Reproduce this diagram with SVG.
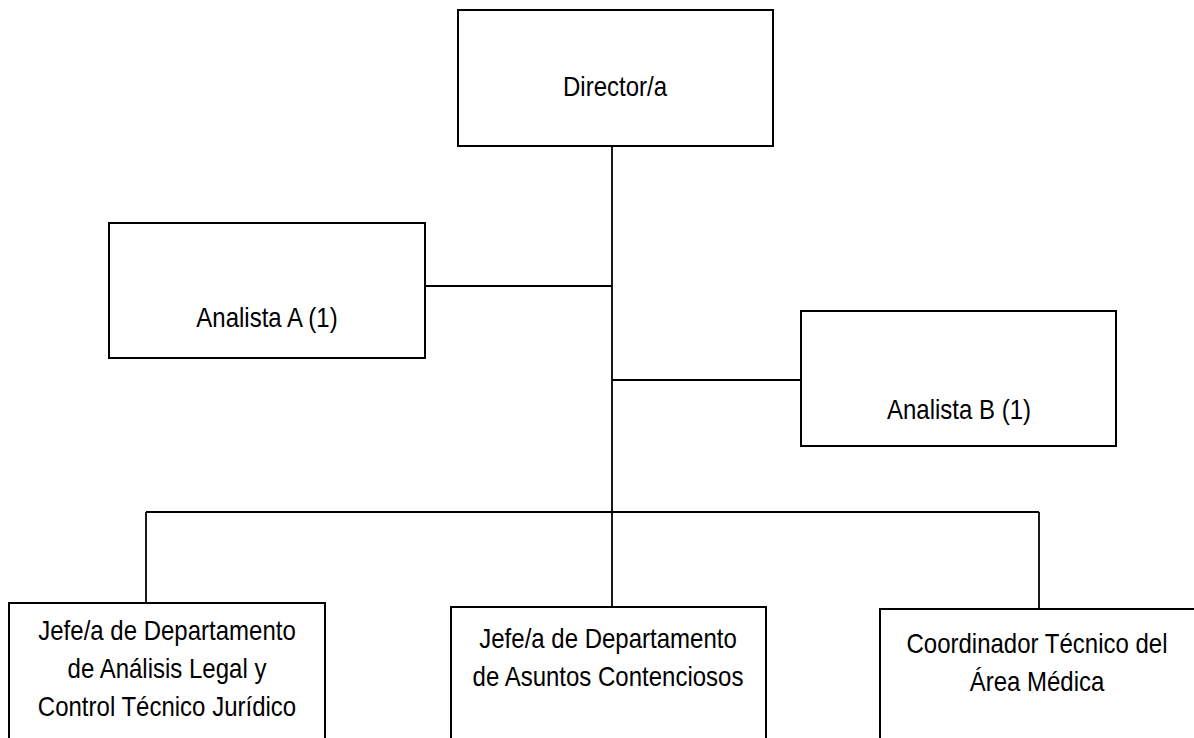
<svg xmlns="http://www.w3.org/2000/svg" width="1194" height="738" viewBox="0 0 1194 738">
<style>
.box{fill:#fff;stroke:#000;stroke-width:2}
.ln{fill:none;stroke:#000;stroke-width:1.8}
.t{font-family:"Liberation Sans",Arial,sans-serif;font-size:24px;fill:#000;text-anchor:middle}
</style>
<rect width="1194" height="738" fill="#fff"/>
<g id="connectors">
<path class="ln" d="M612,146 V607"/>
<path class="ln" d="M425,286 H612"/>
<path class="ln" d="M612,380 H801"/>
<path class="ln" d="M146,512 H1039"/>
<path class="ln" d="M146,512 V603"/>
<path class="ln" d="M1039,512 V609"/>
</g>
<g id="director">
<rect class="box" x="458" y="10" width="315" height="136"/>
<text class="t" transform="translate(615,96) scale(1,1.15)">Director/a</text>
</g>
<g id="analista-a">
<rect class="box" x="109" y="223" width="316" height="135"/>
<text class="t" transform="translate(267,327) scale(1,1.15)">Analista A (1)</text>
</g>
<g id="analista-b">
<rect class="box" x="801" y="311" width="315" height="135"/>
<text class="t" transform="translate(959,419) scale(1,1.15)">Analista B (1)</text>
</g>
<g id="jefe-analisis">
<rect class="box" x="9" y="603" width="316" height="150"/>
<text class="t" transform="translate(167,640) scale(1,1.15)">Jefe/a de Departamento</text>
<text class="t" transform="translate(167,678) scale(1,1.15)">de Análisis Legal y</text>
<text class="t" transform="translate(167,716) scale(1,1.15)">Control Técnico Jurídico</text>
</g>
<g id="jefe-contenciosos">
<rect class="box" x="451" y="607" width="315" height="150"/>
<text class="t" transform="translate(608,648) scale(1,1.15)">Jefe/a de Departamento</text>
<text class="t" transform="translate(608,686) scale(1,1.15)">de Asuntos Contenciosos</text>
</g>
<g id="coordinador">
<rect class="box" x="880" y="609" width="330" height="150"/>
<text class="t" transform="translate(1037,653) scale(1,1.15)">Coordinador Técnico del</text>
<text class="t" transform="translate(1037,691) scale(1,1.15)">Área Médica</text>
</g>
</svg>
